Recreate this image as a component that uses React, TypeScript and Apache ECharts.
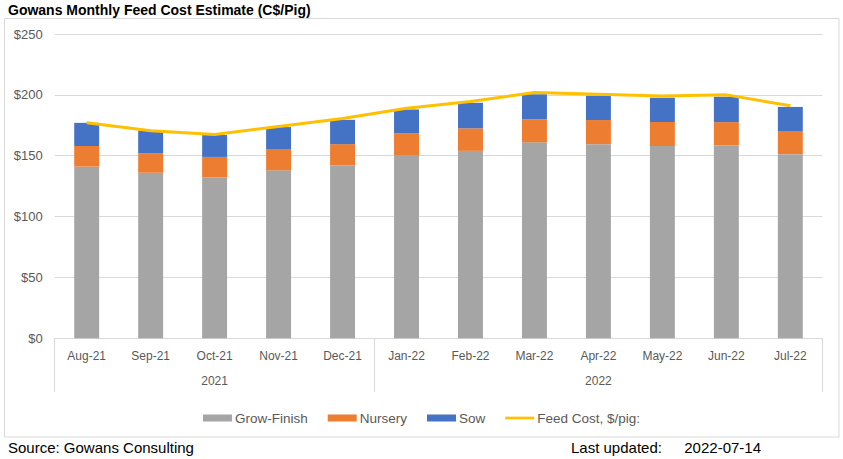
import React, { useEffect, useRef } from "react";
import * as echarts from "echarts";

const months = ["Aug-21", "Sep-21", "Oct-21", "Nov-21", "Dec-21", "Jan-22", "Feb-22", "Mar-22", "Apr-22", "May-22", "Jun-22", "Jul-22"];
const yearLabels = ["2021", "2022"];
const yearCounts = [5, 7];
const growFinish = [141, 136, 132, 138, 142, 150, 154, 161, 159.5, 158, 158.7, 151.3];
const nursery = [17, 16, 17, 17, 17.5, 18.5, 18.5, 18.9, 19.8, 19.7, 18.9, 19];
const sow = [19, 18.5, 18, 18.5, 20, 19.5, 21, 20.6, 20, 20, 20.9, 19.8];
const feedCost = [177, 170.5, 167.5, 174, 180.5, 189, 194.5, 202, 200.5, 199, 200, 191];
const yTicks = [0, 50, 100, 150, 200, 250];

const FONT = "Liberation Sans";

export default function App() {
  const ref = useRef<HTMLDivElement>(null);
  useEffect(() => {
    document.body.style.margin = "0";
    const chart = echarts.init(ref.current!, null, { renderer: "svg" });

    const yearAt: Record<number, string> = {};
    const boundaries: number[] = [];
    let start = 0;
    yearCounts.forEach((c, i) => {
      boundaries.push(start);
      yearAt[start + Math.floor(c / 2)] = yearLabels[i];
      start += c;
    });

    const option = {
      animation: false,
      backgroundColor: "#ffffff",
      textStyle: { fontFamily: FONT },
      grid: { left: 54.7, right: 20.7, top: 34, bottom: 120.7, containLabel: false },
      legend: {
        left: "center",
        top: 406,
        itemWidth: 29,
        itemHeight: 7,
        itemGap: 20,
        symbolKeepAspect: true,
        textStyle: { fontFamily: FONT, fontSize: 13.5, color: "#595959", padding: [0, 0, 0, -2] },
        data: [
          { name: "Grow-Finish", icon: "rect" },
          { name: "Nursery", icon: "rect" },
          { name: "Sow", icon: "rect" },
          { name: "Feed Cost, $/pig:", icon: "path://M0 0H32V3H0Z" },
        ],
      },
      xAxis: [
        {
          type: "category",
          data: months,
          position: "bottom",
          axisLine: { show: true, lineStyle: { color: "#d9d9d9", width: 1 } },
          axisTick: { show: false },
          axisLabel: { color: "#595959", fontSize: 12, margin: 12, interval: 0, fontFamily: FONT },
          splitLine: { show: false },
        },
        {
          type: "category",
          data: months,
          position: "bottom",
          axisLine: { show: false },
          axisTick: {
            show: true,
            length: 53.5,
            interval: (i: number) => boundaries.indexOf(i) >= 0,
            lineStyle: { color: "#d9d9d9", width: 1 },
          },
          axisLabel: {
            color: "#595959",
            fontSize: 12,
            margin: 37,
            interval: 0,
            fontFamily: FONT,
            formatter: (_v: string, i: number) => yearAt[i] || "",
          },
          splitLine: { show: false },
        },
      ],
      yAxis: {
        type: "value",
        min: yTicks[0],
        max: yTicks[yTicks.length - 1],
        interval: 50,
        axisLine: { show: false },
        axisTick: { show: false },
        axisLabel: { color: "#595959", fontSize: 13, margin: 12, fontFamily: FONT, formatter: (v: number) => "$" + v },
        splitLine: { lineStyle: { color: "#d9d9d9", width: 1 } },
      },
      series: [
        { name: "Grow-Finish", type: "bar", stack: "cost", data: growFinish, barWidth: "39%", itemStyle: { color: "#A5A5A5" } },
        { name: "Nursery", type: "bar", stack: "cost", data: nursery, barWidth: "39%", itemStyle: { color: "#ED7D31" } },
        { name: "Sow", type: "bar", stack: "cost", data: sow, barWidth: "39%", itemStyle: { color: "#4472C4" } },
        {
          name: "Feed Cost, $/pig:",
          type: "line",
          data: feedCost,
          symbol: "none",
          showSymbol: false,
          z: 5,
          lineStyle: { color: "#FFC000", width: 3 },
          itemStyle: { color: "#FFC000" },
        },
      ],
      graphic: [
        {
          type: "rect",
          shape: { x: 4.5, y: 18.5, width: 834.5, height: 418.5 },
          style: { fill: "none", stroke: "#d9d9d9", lineWidth: 1 },
          z: -10,
        },
        {
          type: "text",
          x: 8,
          y: 10,
          style: { text: "Gowans Monthly Feed Cost Estimate (C$/Pig)", fontFamily: FONT, fontWeight: "bold", fontSize: 14, fill: "#000000", verticalAlign: "middle", align: "left" },
        },
        {
          type: "text",
          x: 8,
          y: 447,
          style: { text: "Source: Gowans Consulting", fontFamily: FONT, fontSize: 15, fill: "#000000", verticalAlign: "middle", align: "left" },
        },
        {
          type: "text",
          x: 571,
          y: 447,
          style: { text: "Last updated:", fontFamily: FONT, fontSize: 15, fill: "#000000", verticalAlign: "middle", align: "left" },
        },
        {
          type: "text",
          x: 761,
          y: 447,
          style: { text: "2022-07-14", fontFamily: FONT, fontSize: 15, fill: "#000000", verticalAlign: "middle", align: "right" },
        },
      ],
    };
    chart.setOption(option as any);
    return () => chart.dispose();
  }, []);
  return <div ref={ref} style={{ position: "absolute", left: 0, top: 0, width: 843, height: 459 }} />;
}
